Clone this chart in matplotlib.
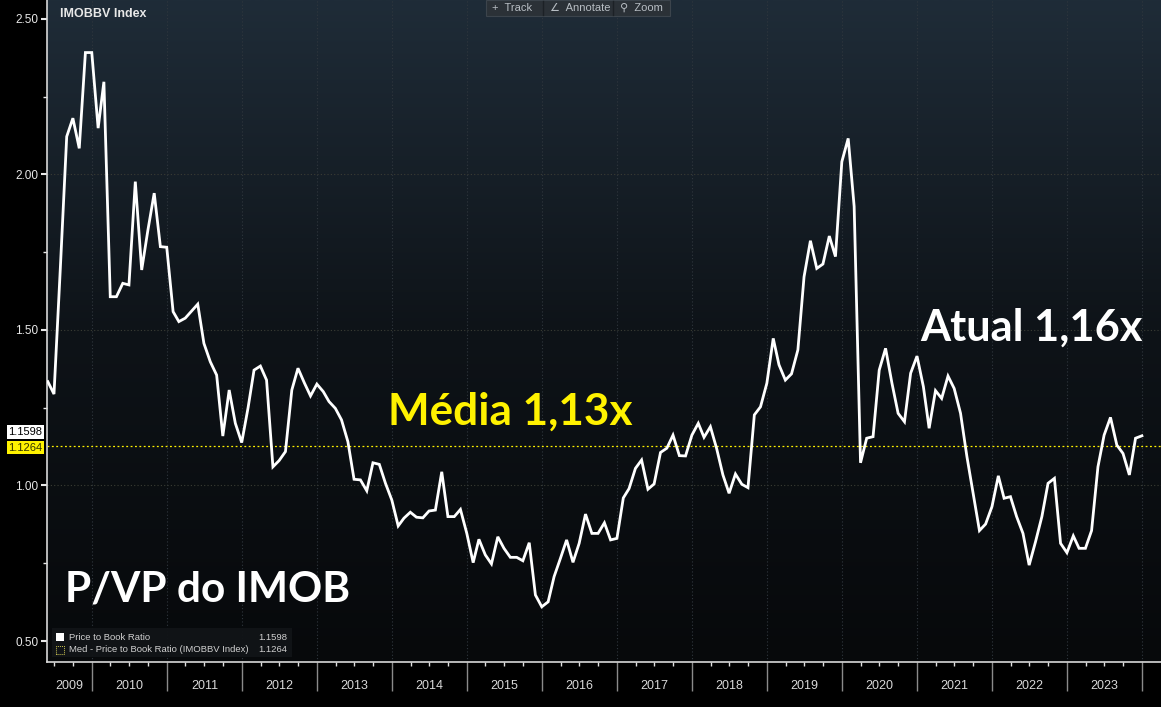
import numpy as np
import pandas as pd
import matplotlib
matplotlib.use('Agg')
import matplotlib.pyplot as plt
import matplotlib.dates as mdates
import matplotlib.transforms as mtransforms
from matplotlib.colors import LinearSegmentedColormap
from matplotlib.patches import Rectangle

# Dados: P/VP mensal do IMOBBV (mai/2009 - dez/2023)
datas = pd.date_range('2009-05-31', periods=176, freq='ME')
pvp = [
    1.334, 1.294, 1.70, 2.122, 2.181, 2.084, 2.392, 2.392, 2.149, 2.298,
    1.607, 1.607, 1.650, 1.645, 1.977, 1.693, 1.82, 1.94, 1.768, 1.766,
    1.559, 1.527, 1.538, 1.56, 1.583, 1.457, 1.398, 1.355, 1.159, 1.307,
    1.20, 1.138, 1.25, 1.371, 1.384, 1.339, 1.060, 1.080, 1.109, 1.307,
    1.377, 1.33, 1.288, 1.326, 1.302, 1.27, 1.248, 1.211, 1.141, 1.020,
    1.018, 0.983, 1.073, 1.068, 1.007, 0.953, 0.870, 0.895, 0.914, 0.898,
    0.896, 0.918, 0.921, 1.044, 0.900, 0.900, 0.923, 0.846, 0.752, 0.827,
    0.777, 0.748, 0.835, 0.798, 0.769, 0.769, 0.758, 0.816, 0.648, 0.610,
    0.626, 0.707, 0.766, 0.825, 0.753, 0.814, 0.908, 0.846, 0.846, 0.880,
    0.825, 0.830, 0.96, 0.99, 1.055, 1.082, 0.988, 1.005, 1.106, 1.120,
    1.162, 1.096, 1.095, 1.162, 1.200, 1.155, 1.189, 1.120, 1.034, 0.975,
    1.037, 1.004, 0.993, 1.227, 1.253, 1.329, 1.473, 1.388, 1.339, 1.359,
    1.436, 1.671, 1.787, 1.698, 1.712, 1.802, 1.736, 2.041, 2.116, 1.897,
    1.073, 1.152, 1.157, 1.371, 1.441, 1.329, 1.232, 1.205, 1.361, 1.416,
    1.318, 1.184, 1.305, 1.280, 1.352, 1.312, 1.232, 1.093, 0.975, 0.855,
    0.876, 0.932, 1.031, 0.959, 0.964, 0.900, 0.846, 0.744, 0.819, 0.900,
    1.007, 1.023, 0.814, 0.784, 0.838, 0.798, 0.798, 0.855, 1.060, 1.162,
    1.219, 1.130, 1.103, 1.034, 1.152, 1.1598,
]
mediana = 1.1264
atual = 1.1598
anos = list(range(2009, 2024))

AMARELO = '#fff200'

plt.rcParams['font.family'] = ['Liberation Sans', 'DejaVu Sans']

W, H = 1161, 707
fig = plt.figure(figsize=(W / 100, H / 100), dpi=100, facecolor='black')
ax = fig.add_axes([47 / W, (H - 662) / H, 1 - 47 / W, 662 / H])
ax.set_facecolor('black')

# Fundo em degradê (azul escuro em cima, quase preto embaixo)
cmap = LinearSegmentedColormap.from_list('fundo', ['#07090b', '#0e1318', '#1f2c38'])
grad = np.linspace(0, 1, 256).reshape(-1, 1)
ax.imshow(grad, extent=[0, 1, 0, 1], transform=ax.transAxes, cmap=cmap,
          aspect='auto', origin='lower', zorder=0)

x0 = mdates.date2num(pd.Timestamp('2009-05-27'))
x1 = mdates.date2num(pd.Timestamp('2024-04-02'))

# Grade pontilhada
for a in anos[1:] + [2024]:
    ax.axvline(pd.Timestamp(f'{a}-01-01'), color='#30373e', lw=0.8, ls=(0, (1, 2)), zorder=1)
for v in [1.0, 1.5, 2.0]:
    ax.axhline(v, color='#3a3d34', lw=0.8, ls=(0, (1, 2)), zorder=1)

# Mediana
ax.axhline(mediana, color=AMARELO, lw=0.9, ls=(0, (1.5, 2)), zorder=2)

# Série principal
ax.plot(datas, pvp, color='white', lw=2.0, zorder=3, solid_joinstyle='miter')

ax.set_xlim(x0, x1)
ax.set_ylim(0.4325, 2.561)

# Eixo Y
ax.set_yticks([0.5, 1.0, 1.5, 2.0, 2.5])
ax.set_yticklabels(['0.50', '1.00', '1.50', '2.00', '2.50'])
ax.set_yticks(np.arange(0.75, 2.5, 0.5), minor=True)
ax.tick_params(axis='y', which='major', colors='#e8e8e8', labelsize=8.5, length=4, width=1.5, pad=2)
ax.tick_params(axis='y', which='minor', colors='#e8e8e8', length=3, width=1)

# Eixo X: separadores de ano + trimestres
ax.set_xticks([mdates.date2num(pd.Timestamp(f'{a}-01-01')) for a in anos[1:] + [2024]])
ax.set_xticklabels([])
trimestres = [mdates.date2num(pd.Timestamp(f'{a}-{m:02d}-01')) for a in anos for m in (4, 7, 10)]
ax.set_xticks([t for t in trimestres if x0 < t < x1], minor=True)
ax.tick_params(axis='x', which='major', colors='#8a8a8a', length=21, width=1)
ax.tick_params(axis='x', which='minor', colors='#e0e0e0', length=3, width=1)

for s in ['top', 'right']:
    ax.spines[s].set_visible(False)
ax.spines['left'].set_color('#d8d8d8')
ax.spines['bottom'].set_color('#d8d8d8')
ax.spines['left'].set_linewidth(1.2)
ax.spines['bottom'].set_linewidth(1.2)

# Rótulos dos anos centralizados
trans_x = mtransforms.blended_transform_factory(ax.transData, fig.transFigure)
for a in anos:
    ini = max(mdates.date2num(pd.Timestamp(f'{a}-01-01')), x0)
    fim = mdates.date2num(pd.Timestamp(f'{a + 1}-01-01'))
    ax.text((ini + fim) / 2, (H - 686) / H, str(a), transform=trans_x,
            ha='center', va='center', color='#d8d8d8', fontsize=9)

# Etiquetas de valor à esquerda
trans_y = mtransforms.blended_transform_factory(ax.transAxes, ax.transData)
ax.text(-0.004, mediana - 0.005, f'{mediana:.4f}', transform=trans_y, ha='right', va='center',
        fontsize=8, color='#333300', clip_on=False,
        bbox=dict(boxstyle='square,pad=0.15', fc=AMARELO, ec='none'))
ax.text(-0.004, atual + 0.012, f'{atual:.4f}', transform=trans_y, ha='right', va='center',
        fontsize=8, color='black', clip_on=False,
        bbox=dict(boxstyle='square,pad=0.15', fc='white', ec='none'))

# Título do gráfico
fig.text(60 / W, 1 - 14 / H, 'IMOBBV Index', color='#e8e8e8', fontsize=9,
         fontweight='bold', ha='left', va='center')

# Barra de ferramentas
fig.patches.append(Rectangle((486 / W, 1 - 16 / H), 184 / W, 16 / H, transform=fig.transFigure,
                             fc='#2b3137', ec='#3c444c', lw=0.8, zorder=5))
for xp in [543, 613]:
    fig.lines.append(plt.Line2D([xp / W, xp / W], [1 - 15 / H, 1 - 1 / H], transform=fig.transFigure,
                                color='#1c2126', lw=1, zorder=6))
for xp, txt in [(492, '+  Track'), (550, '∠  Annotate'), (620, '⚲  Zoom')]:
    fig.text(xp / W, 1 - 8 / H, txt, color='#b8bec4', fontsize=8, ha='left', va='center', zorder=7)

# Legenda (caixa no canto inferior esquerdo)
fig.patches.append(Rectangle((52 / W, (H - 657) / H), 240 / W, 29 / H, transform=fig.transFigure,
                             fc='#111417', ec='none', alpha=0.95, zorder=5))
fig.patches.append(Rectangle((56 / W, (H - 641) / H), 8 / W, 8 / H, transform=fig.transFigure,
                             fc='white', ec='none', zorder=6))
fig.patches.append(Rectangle((56 / W, (H - 654) / H), 8 / W, 8 / H, transform=fig.transFigure,
                             fc='none', ec='#c8c050', lw=0.7, ls=(0, (1, 1)), zorder=6))
leg = [(637, 'Price to Book Ratio', f'{atual:.4f}'),
       (650, 'Med - Price to Book Ratio (IMOBBV Index)', f'{mediana:.4f}')]
for yp, nome, val in leg:
    fig.text(69 / W, 1 - yp / H, nome, color='#d0d0d0', fontsize=6.8, ha='left', va='center', zorder=7)
    fig.text(287 / W, 1 - yp / H, val, color='#d0d0d0', fontsize=6.8, ha='right', va='center', zorder=7)

# Anotações grandes
fig.text(65 / W, 1 - 602 / H, 'P/VP do IMOB', family='Lato', fontweight='bold',
         fontsize=30.5, color='white', ha='left', va='baseline')
fig.text(388 / W, 1 - 425 / H, 'Média 1,13x', family='Lato', fontweight='bold',
         fontsize=31.8, color=AMARELO, ha='left', va='baseline')
fig.text(920 / W, 1 - 341 / H, 'Atual 1,16x', family='Lato', fontweight='bold',
         fontsize=31.2, color='white', ha='left', va='baseline')

fig.savefig('out.png', dpi=100, facecolor='black')
